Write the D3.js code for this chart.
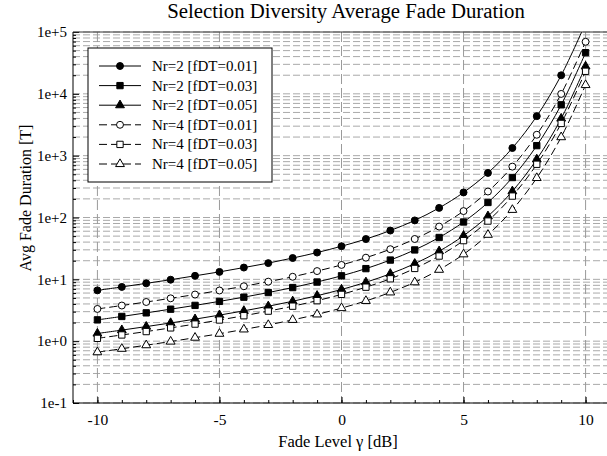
<!DOCTYPE html>
<html>
<head>
<meta charset="utf-8">
<script src="https://cdn.jsdelivr.net/npm/d3@7"></script>
<style>
  body { margin: 0; background: #fff; }
  text { font-family: "Liberation Serif", "Times New Roman", serif; }
</style>
</head>
<body>
<script>
// Data
var gammaDb = [-10, -9, -8, -7, -6, -5, -4, -3, -2, -1, 0, 1, 2, 3, 4, 5, 6, 7, 8, 9, 10];

var nr2_fdt001 = [6.63, 7.54, 8.61, 9.86, 11.4, 13.2, 15.5, 18.3, 22.1, 27.1, 34.3, 44.8, 61.5, 89.7, 143, 254, 526, 1329, 4358, 19930, 138900];
var nr2_fdt003 = [2.21, 2.51, 2.87, 3.29, 3.79, 4.40, 5.15, 6.11, 7.36, 9.05, 11.4, 14.9, 20.5, 29.9, 47.5, 84.6, 175, 443, 1453, 6643, 46310];
var nr2_fdt005 = [1.33, 1.51, 1.72, 1.97, 2.27, 2.64, 3.09, 3.67, 4.42, 5.43, 6.86, 8.97, 12.3, 17.9, 28.5, 50.8, 105, 266, 872, 3986, 27790];
var nr4_fdt001 = [3.32, 3.77, 4.30, 4.93, 5.68, 6.60, 7.73, 9.17, 11.0, 13.6, 17.1, 22.4, 30.7, 44.9, 71.3, 127, 263, 665, 2179, 9965, 69470];
var nr4_fdt003 = [1.11, 1.26, 1.43, 1.64, 1.89, 2.20, 2.58, 3.06, 3.68, 4.52, 5.71, 7.47, 10.2, 15.0, 23.8, 42.3, 87.6, 222, 726, 3321, 23160];
var nr4_fdt005 = [0.663, 0.754, 0.861, 0.986, 1.14, 1.32, 1.55, 1.83, 2.21, 2.71, 3.43, 4.48, 6.15, 8.97, 14.3, 25.4, 52.6, 133, 436, 1993, 13890];

var seriesNames = ["Nr=2 [fDT=0.01]", "Nr=2 [fDT=0.03]", "Nr=2 [fDT=0.05]",
                   "Nr=4 [fDT=0.01]", "Nr=4 [fDT=0.03]", "Nr=4 [fDT=0.05]"];
var seriesValues = [nr2_fdt001, nr2_fdt003, nr2_fdt005, nr4_fdt001, nr4_fdt003, nr4_fdt005];

var xTicks = [-10, -5, 0, 5, 10];
var yTicks = [1e-1, 1e0, 1e1, 1e2, 1e3, 1e4, 1e5];

// SVG setup
var WIDTH = 607, HEIGHT = 456;
var margin = {left: 73, right: -3, top: 32, bottom: 53};

var svg = d3.select("body").append("svg").attr("width", WIDTH).attr("height", HEIGHT);

var x_scale = d3.scaleLinear().domain([-11, 11]).range([margin.left, WIDTH - margin.right]);
var y_scale = d3.scaleLog().domain([1e-1, 1e5]).range([HEIGHT - margin.bottom, margin.top]);

var x0 = x_scale.range()[0], x1 = x_scale.range()[1];
var yBot = y_scale.range()[0], yTop = y_scale.range()[1];

// grid
var minorY = [];
yTicks.forEach(function(d) {
    if (d < 1e5) {
        for (var k = 2; k <= 9; k++) minorY.push(d * k);
    }
});

var grid = svg.append("g");
grid.selectAll("line.hy").data(yTicks.concat(minorY)).enter().append("line")
    .attr("x1", x0).attr("x2", x1)
    .attr("y1", function(d) { return y_scale(d); })
    .attr("y2", function(d) { return y_scale(d); })
    .attr("stroke", "#a9a9a9")
    .attr("stroke-dasharray", "7,3");
grid.selectAll("line.vx").data(xTicks).enter().append("line")
    .attr("x1", function(d) { return x_scale(d); })
    .attr("x2", function(d) { return x_scale(d); })
    .attr("y1", yTop).attr("y2", yBot)
    .attr("stroke", "#9a9a9a")
    .attr("stroke-dasharray", "10,4");

// clip
svg.append("clipPath").attr("id", "plotclip").append("rect")
    .attr("x", x0).attr("y", yTop).attr("width", x1 - x0).attr("height", yBot - yTop);

var plot = svg.append("g").attr("clip-path", "url(#plotclip)");

var line = d3.line()
    .x(function(d, i) { return x_scale(gammaDb[i]); })
    .y(function(d) { return y_scale(d); })
    .curve(d3.curveCatmullRom);

var symbols = [d3.symbolCircle, d3.symbolSquare, d3.symbolTriangle,
               d3.symbolCircle, d3.symbolSquare, d3.symbolTriangle];
var symSize = [38, 40, 34, 38, 40, 34];

seriesValues.forEach(function(vals, s) {
    var dashed = s >= 3;
    plot.append("path")
        .attr("d", line(vals))
        .attr("fill", "none")
        .attr("stroke", "#000")
        .attr("stroke-width", 1)
        .attr("stroke-dasharray", dashed ? "8,4" : null);

    plot.selectAll("path.m" + s).data(vals).enter().append("path")
        .attr("class", "m" + s)
        .attr("d", d3.symbol().type(symbols[s]).size(symSize[s]))
        .attr("transform", function(d, i) {
            return "translate(" + x_scale(gammaDb[i]) + "," + y_scale(d) + ")";
        })
        .attr("fill", dashed ? "#fff" : "#000")
        .attr("stroke", "#000")
        .attr("stroke-width", 1);
});

// axes
svg.append("g").attr("transform", "translate(0," + yBot + ")")
    .call(d3.axisBottom(x_scale).tickValues(d3.range(-11, 12)).tickSize(-3).tickFormat(""))
    .call(function(g) { g.select(".domain").remove(); });

svg.append("g").attr("transform", "translate(0," + yBot + ")")
    .call(d3.axisBottom(x_scale).tickValues(xTicks).tickSize(-6).tickPadding(11)
        .tickFormat(function(d) { return d; }))
    .call(function(g) {
        g.select(".domain").attr("d", "M" + x0 + ",0H" + x1);
        g.selectAll("text").attr("font-size", "15.5px").attr("font-family", "Liberation Serif");
    });

svg.append("g").attr("transform", "translate(" + x0 + ",0)")
    .call(d3.axisLeft(y_scale).tickValues(minorY).tickSize(-3).tickFormat(""))
    .call(function(g) { g.select(".domain").remove(); });

svg.append("g").attr("transform", "translate(" + x0 + ",0)")
    .call(d3.axisLeft(y_scale).tickValues(yTicks).tickSize(-6).tickPadding(6)
        .tickFormat(function(d) {
            var e = Math.round(Math.log10(d));
            return "1e" + (e >= 0 ? "+" : "-") + Math.abs(e);
        }))
    .call(function(g) {
        g.select(".domain").attr("d", "M0," + yBot + "V" + yTop);
        g.selectAll("text").attr("font-size", "15px").attr("font-family", "Liberation Serif");
    });

// top frame
svg.append("line").attr("x1", x0).attr("x2", x1).attr("y1", yTop).attr("y2", yTop)
    .attr("stroke", "#333");

// title + labels
svg.append("text").attr("x", 346).attr("y", 18).attr("text-anchor", "middle")
    .attr("font-size", "20.8px").text("Selection Diversity Average Fade Duration");

svg.append("text").attr("x", 338).attr("y", 447).attr("text-anchor", "middle")
    .attr("font-size", "16.5px").text("Fade Level γ [dB]");

svg.append("text")
    .attr("transform", "translate(31,198) rotate(-90)")
    .attr("text-anchor", "middle")
    .attr("font-size", "16px")
    .text("Avg Fade Duration [T]");

// legend
var legend = svg.append("g");
legend.append("rect").attr("x", 88).attr("y", 48).attr("width", 184).attr("height", 134)
    .attr("fill", "#fff").attr("stroke", "#000");

seriesNames.forEach(function(name, s) {
    var ly = 66 + s * 19.6;
    legend.append("line").attr("x1", 99).attr("x2", 141).attr("y1", ly).attr("y2", ly)
        .attr("stroke", "#000")
        .attr("stroke-dasharray", s >= 3 ? "8,4" : null);
    legend.append("path")
        .attr("d", d3.symbol().type(symbols[s]).size(symSize[s]))
        .attr("transform", "translate(120," + ly + ")")
        .attr("fill", s >= 3 ? "#fff" : "#000")
        .attr("stroke", "#000");
    legend.append("text").attr("x", 152).attr("y", ly + 5)
        .attr("font-size", "15px").text(name);
});
</script>
</body>
</html>
